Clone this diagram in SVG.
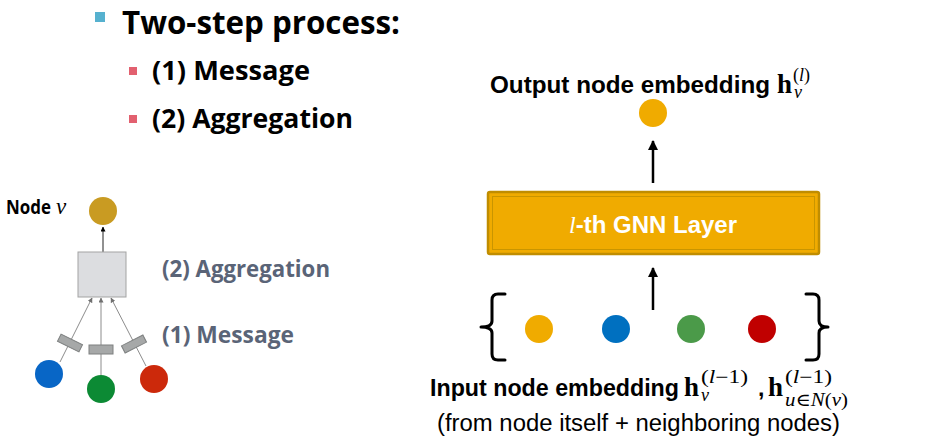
<svg xmlns="http://www.w3.org/2000/svg" width="934" height="437" viewBox="0 0 934 437">
<style>
.cal{font-family:"Open Sans","Liberation Sans",sans-serif;font-weight:bold}
.ar{font-family:"Liberation Sans",Arial,sans-serif;font-weight:bold;font-size:23px;fill:#000}
.math{font-family:"Liberation Serif","DejaVu Serif",serif}
.lbl{fill:#5a6477;font-size:23px}
.thin{stroke:#8c8c8c;stroke-width:1;fill:none}
.msg{fill:#a6a8a8;stroke:#7e8080;stroke-width:1}
.big{stroke:#000;stroke-width:2.5;fill:none}
.brace{stroke:#000;stroke-width:3;fill:none;stroke-linecap:round;stroke-linejoin:round}
</style>
<defs>
<marker id="ah" viewBox="0 0 10 10" refX="9" refY="5" markerWidth="4" markerHeight="4" orient="auto" markerUnits="strokeWidth">
<path d="M0,0 L10,5 L0,10 z" fill="#000"/>
</marker>
<marker id="ahs" viewBox="0 0 10 10" refX="9" refY="5" markerWidth="5" markerHeight="5" orient="auto" markerUnits="strokeWidth">
<path d="M0,0 L10,5 L0,10 z" fill="#707070"/>
</marker>
<marker id="ahk" viewBox="0 0 10 10" refX="9" refY="5" markerWidth="5" markerHeight="5" orient="auto" markerUnits="strokeWidth">
<path d="M0,0 L10,5 L0,10 z" fill="#000"/>
</marker>
</defs>
<rect width="934" height="437" fill="#fff"/>

<g id="bullets">
<rect x="95" y="12" width="10" height="10" fill="#56b1cf"/>
<text class="cal" x="122" y="34" font-size="32" textLength="278" lengthAdjust="spacingAndGlyphs">Two-step process:</text>
<rect x="129" y="67" width="8" height="8" fill="#e2606f"/>
<text class="cal" x="152" y="80" font-size="26" textLength="158" lengthAdjust="spacingAndGlyphs">(1) Message</text>
<rect x="129" y="115" width="8" height="8" fill="#e2606f"/>
<text class="cal" x="152" y="128" font-size="26" textLength="201" lengthAdjust="spacingAndGlyphs">(2) Aggregation</text>
</g>

<g id="left-connectors">
<line x1="103" y1="252" x2="103" y2="227" stroke="#222" stroke-width="1" marker-end="url(#ahk)"/>
<line class="thin" x1="60" y1="362" x2="92" y2="298" marker-end="url(#ahs)"/>
<line class="thin" x1="101" y1="375" x2="101" y2="298" marker-end="url(#ahs)"/>
<line class="thin" x1="146" y1="366" x2="111" y2="298" marker-end="url(#ahs)"/>
</g>

<g id="node-v">
<circle cx="103" cy="211" r="14" fill="#c99b22"/>
<text class="cal" x="6" y="214" font-size="19" fill="#000" textLength="45" lengthAdjust="spacingAndGlyphs">Node</text>
<text class="math" x="56" y="214" font-size="23" font-style="italic" fill="#000">v</text>
</g>
<g id="agg-box">
<rect x="78" y="252" width="48" height="45" fill="#dcdde0" stroke="#a3a3a3" stroke-width="1"/>
</g>
<g id="msg-rects">
<rect class="msg" x="-12" y="-4" width="24" height="8" transform="translate(70,343) rotate(26.6)"/>
<rect class="msg" x="89" y="345" width="24" height="9"/>
<rect class="msg" x="-12" y="-4" width="24" height="8" transform="translate(134,344) rotate(-27)"/>
</g>
<g id="neighbors-left">
<circle cx="49" cy="374" r="14" fill="#0866c6"/>
<circle cx="101" cy="389" r="14" fill="#0c8a34"/>
<circle cx="154" cy="379" r="14" fill="#cc290b"/>
</g>
<g id="left-labels">
<text class="cal lbl" x="162" y="277" textLength="168" lengthAdjust="spacingAndGlyphs">(2) Aggregation</text>
<text class="cal lbl" x="162" y="343" textLength="132" lengthAdjust="spacingAndGlyphs">(1) Message</text>
</g>

<g id="right-connectors">
<line class="big" x1="653" y1="183" x2="653" y2="141" marker-end="url(#ah)"/>
<line class="big" x1="653" y1="310" x2="653" y2="268" marker-end="url(#ah)"/>
</g>

<g id="output-node">
<text class="ar" x="490" y="93" textLength="280" lengthAdjust="spacingAndGlyphs">Output node embedding</text>
<text class="math" x="777" y="93" font-size="27" font-weight="bold">h</text>
<text class="math" x="793" y="81" font-size="18">(<tspan font-style="italic">l</tspan>)</text>
<text class="math" x="794" y="98" font-size="18" font-style="italic">v</text>
<circle cx="653" cy="113" r="14" fill="#f0ab00"/>
</g>

<g id="gnn-layer">
<rect x="488" y="192" width="331" height="62" rx="2" fill="#f0ab00" stroke="#c08d00" stroke-width="2.5"/>
<rect x="492.5" y="196.5" width="322" height="53" fill="none" stroke="#c99500" stroke-width="1"/>
<text x="653" y="233" text-anchor="middle" fill="#fff" font-family="Liberation Sans,Arial,sans-serif" font-weight="bold" font-size="24"><tspan font-family="Liberation Serif,serif" font-style="italic" font-weight="normal">l</tspan>-th GNN Layer</text>
</g>

<g id="input-nodes">
<path class="brace" d="M505,294 L498,294 Q492,294 492,300 L492,321 Q492,327 481,327 Q492,327 492,333 L492,354 Q492,360 498,360 L505,360"/>
<path class="brace" d="M806,294 L813,294 Q819,294 819,300 L819,321 Q819,327 828,327 Q819,327 819,333 L819,354 Q819,360 813,360 L806,360"/>
<circle cx="539" cy="329" r="14" fill="#f0ab00"/>
<circle cx="616" cy="329" r="14" fill="#0070c0"/>
<circle cx="691" cy="329" r="14" fill="#4b9a49"/>
<circle cx="762" cy="329" r="14" fill="#c00000"/>
</g>

<g id="input-label">
<text class="ar" x="430" y="396" textLength="249" lengthAdjust="spacingAndGlyphs">Input node embedding</text>
<text class="math" x="684" y="396" font-size="27" font-weight="bold">h</text>
<text class="math" x="701" y="383" font-size="18" textLength="47" lengthAdjust="spacingAndGlyphs">(<tspan font-style="italic">l</tspan>−1)</text>
<text class="math" x="701" y="401" font-size="18" font-style="italic">v</text>
<text class="ar" x="758" y="396">,</text>
<text class="math" x="768" y="396" font-size="27" font-weight="bold">h</text>
<text class="math" x="785" y="383" font-size="18" textLength="47" lengthAdjust="spacingAndGlyphs">(<tspan font-style="italic">l</tspan>−1)</text>
<text class="math" x="785" y="406" font-size="18" textLength="63" lengthAdjust="spacingAndGlyphs"><tspan font-style="italic">u</tspan>∈<tspan font-style="italic">N</tspan>(<tspan font-style="italic">v</tspan>)</text>
<text x="437" y="431" font-family="Liberation Sans,Arial,sans-serif" font-size="23" fill="#000" textLength="403" lengthAdjust="spacingAndGlyphs">(from node itself + neighboring nodes)</text>
</g>
</svg>
